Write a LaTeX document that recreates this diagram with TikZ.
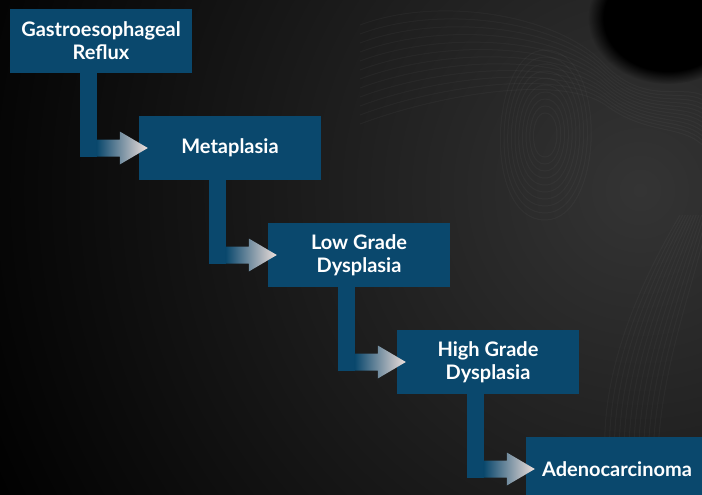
\documentclass[tikz,border=0pt]{standalone}
\usepackage{fontspec}
\setmainfont{Lato}
\usetikzlibrary{calc,fadings}
\definecolor{boxblue}{HTML}{0A486D}
\definecolor{tipwhite}{HTML}{EFE0DC}
\definecolor{bggray}{HTML}{343434}
\tikzset{
  stepbox/.style={rectangle, fill=boxblue, minimum width=182pt, minimum height=64pt,
    inner sep=0pt, text=white, font=\bfseries\fontsize{20}{23}\selectfont, align=center},
  swirl/.style={draw=white, opacity=0.03, line width=1pt}
}
\begin{document}
\begin{tikzpicture}[x=1pt,y=-1pt]
\useasboundingbox (0,0) rectangle (702,495);
\begin{scope}
\clip (0,0) rectangle (702,495);
% background
\fill[black] (0,0) rectangle (702,495);
\shade[inner color=bggray, outer color=black] (640,190) circle (720);
% texture
\foreach \r in {22,29,...,90} {
  \draw[swirl] (545,{135-\r}) .. controls ({545+\r*0.75},{135-\r}) and ({545+\r*0.7},{135+\r}) .. (545,{135+\r})
     .. controls ({545-\r*0.75},{135+\r}) and ({545-\r*0.65},{135-\r}) .. cycle;
}
\foreach \d in {0,9,...,100} {
  \draw[swirl] (360,{25+\d}) .. controls (440,{-5+\d}) and (560,{15+\d*0.6}) .. (605,{65+\d*0.4}) .. controls (645,{105+\d*0.3}) and (680,{85+\d*0.4}) .. (702,{95+\d*0.5});
  \draw[swirl] ({610+\d*0.5},495) .. controls ({590+\d*0.6},400) and ({630+\d*0.6},300) .. ({680+\d*0.3},215);
}
% dark hollow top right
\fill[black, path fading=circle with fuzzy edge 20 percent] (668,18) ellipse (80 and 66);
\fill[black] (668,18) ellipse (40 and 34);
% boxes
\node[stepbox] (b1) at (101,41) {Gastroesophageal\\Reflux};
\node[stepbox] (b2) at (230,148) {Metaplasia};
\node[stepbox] (b3) at (359,255) {Low Grade\\Dysplasia};
\node[stepbox] (b4) at (488,362) {High Grade\\Dysplasia};
\node[stepbox] (b5) at (617,469) {Adenocarcinoma};
% arrows
\foreach \a/\b in {b1/b2,b2/b3,b3/b4,b4/b5} {
  \coordinate (sL) at ($(\a.south west)+(70,0)$);
  \coordinate (cL) at (sL |- \b.west);
  \coordinate (hb) at ($(\b.west)+(-19,0)$);
  \coordinate (tp) at ($(\b.west)+(9,0)$);
  \fill[boxblue] (sL) rectangle ($(cL)+(17,8.5)$);
  \shade[left color=boxblue, right color=tipwhite]
    ($(cL)+(17,-8.5)$) -- ($(hb)+(0,-8.5)$) -- ($(hb)+(0,-16.5)$) -- (tp)
    -- ($(hb)+(0,16.5)$) -- ($(hb)+(0,8.5)$) -- ($(cL)+(17,8.5)$) -- cycle;
}
\end{scope}
\end{tikzpicture}
\end{document}
